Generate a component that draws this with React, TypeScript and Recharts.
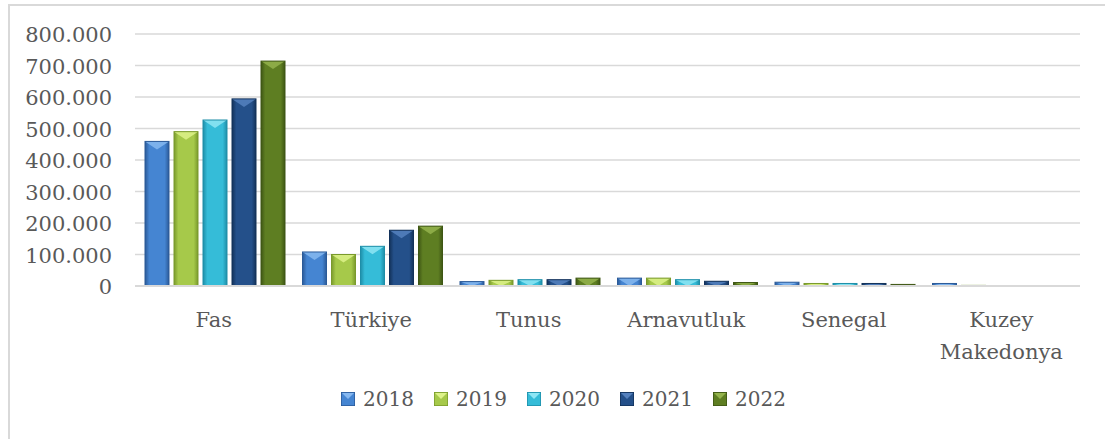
import React from 'react';
import { BarChart, Bar, XAxis, YAxis, CartesianGrid } from 'recharts';

const categories = ['Fas', 'Türkiye', 'Tunus', 'Arnavutluk', 'Senegal', 'Kuzey Makedonya'];
const years = ['2018', '2019', '2020', '2021', '2022'];
const v2018 = [459000, 108000, 14000, 25000, 12000, 8000];
const v2019 = [490000, 100000, 18000, 25000, 8000, 2000];
const v2020 = [527000, 126000, 20000, 20000, 8000, 500];
const v2021 = [594000, 177000, 20000, 15000, 8000, 500];
const v2022 = [714000, 190000, 25000, 11000, 5000, 1500];
const yTicks = [0, 100000, 200000, 300000, 400000, 500000, 600000, 700000, 800000];

const seriesValues = [v2018, v2019, v2020, v2021, v2022];

// edge / centre / top facet colours per year
const palette = [
  { edge: '#2B5A98', mid: '#4585D2', top: '#86B8F0' },
  { edge: '#7A9A2C', mid: '#A6C94A', top: '#DDF28A' },
  { edge: '#1E8EA8', mid: '#35BCD8', top: '#8EE6F5' },
  { edge: '#13325A', mid: '#24508A', top: '#5581BE' },
  { edge: '#3E5614', mid: '#5E7E22', top: '#94B34C' },
];

const data = categories.map((name, i) => {
  const row: Record<string, string | number> = { name };
  years.forEach((y, j) => {
    row[y] = seriesValues[j][i];
  });
  return row;
});

// Liberation Serif is not picked up here, DejaVu Serif is
const serif = 'DejaVu Serif';
const textColor = '#595959';

const fmt = (v: number) => String(v).replace(/\B(?=(\d{3})+(?!\d))/g, '.');

const makeShape = (idx: number) => (props: any) => {
  const { x, y, width, height } = props;
  if (!height || height <= 0) return <g />;
  const c = palette[idx];
  const tri = Math.min(height, width / 3);
  return (
    <g>
      <rect x={x} y={y} width={width} height={height} fill={`url(#barGrad${idx})`} />
      <polygon
        points={`${x},${y} ${x + width},${y} ${x + width / 2},${y + tri}`}
        fill={c.top}
        opacity={0.85}
      />
      <rect x={x} y={y} width={width} height={height} fill="none" stroke={c.edge} strokeWidth={1} />
    </g>
  );
};

const XTick = (props: any) => {
  const { x, y, payload } = props;
  const lines = String(payload.value).split(' ');
  return (
    <text x={x} y={y} textAnchor="middle" fill={textColor} fontFamily={serif} fontSize={21}>
      {lines.map((l, i) => (
        <tspan key={i} x={x} y={y + 39 + i * 32}>
          {l}
        </tspan>
      ))}
    </text>
  );
};

const YTick = (props: any) => {
  const { x, y, payload } = props;
  return (
    <text x={x} y={y + 8} textAnchor="end" fill={textColor} fontFamily={serif} fontSize={21}>
      {fmt(payload.value)}
    </text>
  );
};

const LegendMarker = ({ idx }: { idx: number }) => {
  const c = palette[idx];
  return (
    <svg width={14} height={14} style={{ display: 'block' }}>
      <rect x={0} y={0} width={14} height={14} fill={c.mid} stroke={c.edge} strokeWidth={1.5} />
      <polygon points="1,1 13,1 7,7" fill={c.top} />
    </svg>
  );
};

export default function App() {
  return (
    <div style={{ position: 'absolute', left: 0, top: 0, width: 1105, height: 439, overflow: 'hidden', background: '#fff' }}>
      <div
        style={{
          position: 'absolute',
          left: 8,
          top: 4,
          width: 1110,
          height: 450,
          border: '2px solid #D9D9D9',
          boxSizing: 'border-box',
        }}
      />
      <div style={{ position: 'absolute', left: 0, top: 0 }}>
        <BarChart
          width={1105}
          height={439}
          data={data}
          margin={{ top: 34, right: 25, left: 0, bottom: 0 }}
          barCategoryGap={10}
          barGap={5}
        >
          <defs>
            {palette.map((c, i) => (
              <linearGradient key={i} id={`barGrad${i}`} x1="0" y1="0" x2="1" y2="0">
                <stop offset="0%" stopColor={c.edge} />
                <stop offset="18%" stopColor={c.mid} />
                <stop offset="82%" stopColor={c.mid} />
                <stop offset="100%" stopColor={c.edge} />
              </linearGradient>
            ))}
          </defs>
          <CartesianGrid vertical={false} stroke="#D9D9D9" strokeWidth={1.5} />
          <XAxis
            dataKey="name"
            height={153}
            tickSize={0}
            axisLine={{ stroke: '#D9D9D9', strokeWidth: 2 }}
            tick={<XTick />}
            interval={0}
          />
          <YAxis
            width={135}
            domain={[0, 800000]}
            ticks={yTicks}
            interval={0}
            axisLine={false}
            tickLine={false}
            tickSize={0}
            tickMargin={23}
            tick={<YTick />}
          />
          {years.map((y, i) => (
            <Bar
              key={y}
              dataKey={y}
              fill={palette[i].mid}
              shape={makeShape(i)}
              isAnimationActive={false}
            />
          ))}
        </BarChart>
      </div>
      <div style={{ position: 'absolute', left: 341, top: 385, display: 'flex', alignItems: 'center' }}>
        {years.map((y, i) => (
          <div key={y} style={{ display: 'flex', alignItems: 'center', width: 93 }}>
            <LegendMarker idx={i} />
            <span style={{ marginLeft: 8, fontFamily: serif, fontSize: 20, color: textColor, lineHeight: '28px' }}>
              {y}
            </span>
          </div>
        ))}
      </div>
    </div>
  );
}
